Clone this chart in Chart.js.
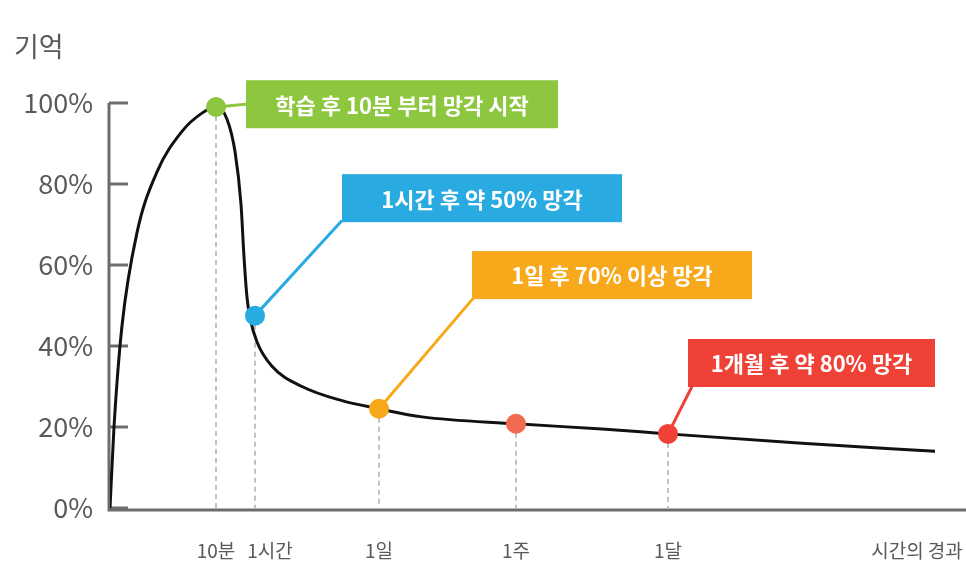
<!DOCTYPE html><html><head><meta charset="utf-8">
<script src="https://cdn.jsdelivr.net/npm/chart.js@4"></script>
<style>html,body{margin:0;background:#fff}#w{width:966px;height:563px}</style></head><body>
<div id="w"><canvas id="c"></canvas></div>
<script>
const curveX=[0,4,12,27,47,72,92,106,117,125,131,134,137,140,147,162,192,232,269,312,406,492,558,692,825];
const curveY=[0,20,45,68,83,93,97.5,99,96,88,75,62,52,47,41,35,30,26.5,24.5,22.5,20.8,19.5,18.3,16,14];
const yTicks=[0,20,40,60,80,100];
const markX=[106,145,269,406,558];
const markY=[99,47.5,24.5,20.8,18.3];
const markColors=['#8dc63f','#29abe2','#f7a81b','#f26b50','#ef4136'];
const xLabels=[{x:106,t:'10분'},{x:160,t:'1시간'},{x:269,t:'1일'},{x:406,t:'1주'},{x:558,t:'1달'},{x:807,t:'시간의 경과'}];
const callouts=[
 {m:0,t:'학습 후 10분 부터 망각 시작',c:'#8dc63f',bx:136,by:99.7,w:312,anchor:[136,99.7]},
 {m:1,t:'1시간 후 약 50% 망각',c:'#29abe2',bx:232,by:76.5,w:280,anchor:[232,71]},
 {m:2,t:'1일 후 70% 이상 망각',c:'#f7a81b',bx:362,by:57.5,w:280,anchor:[364,52]},
 {m:4,t:'1개월 후 약 80% 망각',c:'#ef4136',bx:578,by:35.8,w:247,anchor:[582,30]}
];
const deco={id:'deco',
 beforeDatasetsDraw(ch){const c=ch.ctx,xs=ch.scales.x,ys=ch.scales.y;c.save();
  c.strokeStyle='#999';c.lineWidth=1.2;c.setLineDash([5,4]);
  markX.forEach((v,i)=>{c.beginPath();c.moveTo(xs.getPixelForValue(v),ys.getPixelForValue(markY[i]));c.lineTo(xs.getPixelForValue(v),ys.getPixelForValue(0));c.stroke();});
  c.setLineDash([]);c.strokeStyle='#6d6d6d';c.lineWidth=3;
  const x0=xs.getPixelForValue(0)-1,yb=ys.getPixelForValue(0)+2;
  c.beginPath();c.moveTo(x0,ys.getPixelForValue(100));c.lineTo(x0,yb);c.lineTo(966,yb);c.stroke();
  c.font='27px "Noto Sans CJK KR"';c.fillStyle='#5a5a5a';c.textAlign='right';c.textBaseline='middle';
  yTicks.forEach(v=>{const y=ys.getPixelForValue(v);c.beginPath();c.moveTo(x0,y);c.lineTo(x0+19,y);c.stroke();c.fillText(v+'%',93,y);});
  c.textAlign='left';c.fillText('기억',14,47);
  c.font='19px "Noto Sans CJK KR"';c.textAlign='center';
  xLabels.forEach(l=>c.fillText(l.t,xs.getPixelForValue(l.x),551));
  c.restore();},
 afterDatasetsDraw(ch){const c=ch.ctx,xs=ch.scales.x,ys=ch.scales.y;c.save();
  callouts.forEach(o=>{const px=xs.getPixelForValue(markX[o.m]),py=ys.getPixelForValue(markY[o.m]);
   const ax=xs.getPixelForValue(o.anchor[0]),ay=ys.getPixelForValue(o.anchor[1]);
   c.strokeStyle=o.c;c.lineWidth=3;c.beginPath();c.moveTo(px,py);c.lineTo(ax,ay);c.stroke();
   const bx=xs.getPixelForValue(o.bx),by=ys.getPixelForValue(o.by);
   c.fillStyle=o.c;c.fillRect(bx,by-24,o.w,48);
   c.fillStyle='#fff';c.font='bold 22px "Noto Sans CJK KR"';c.textAlign='center';c.textBaseline='middle';
   c.fillText(o.t,bx+o.w/2,by+1);});
  markX.forEach((v,i)=>{c.fillStyle=markColors[i];c.beginPath();c.arc(xs.getPixelForValue(v),ys.getPixelForValue(markY[i]),10,0,Math.PI*2);c.fill();});
  c.restore();}};
new Chart(document.getElementById('c'),{type:'line',
 data:{datasets:[{data:curveX.map((x,i)=>({x,y:curveY[i]})),borderColor:'#111',borderWidth:3,pointRadius:0,cubicInterpolationMode:'monotone',fill:false}]},
 options:{responsive:true,maintainAspectRatio:false,animation:false,events:[],
  layout:{padding:{left:110,right:0,top:103,bottom:55}},
  plugins:{legend:{display:false},tooltip:{enabled:false}},
  scales:{x:{type:'linear',min:0,max:856,display:false},y:{min:0,max:100,display:false}}},
 plugins:[deco]});
</script></body></html>
